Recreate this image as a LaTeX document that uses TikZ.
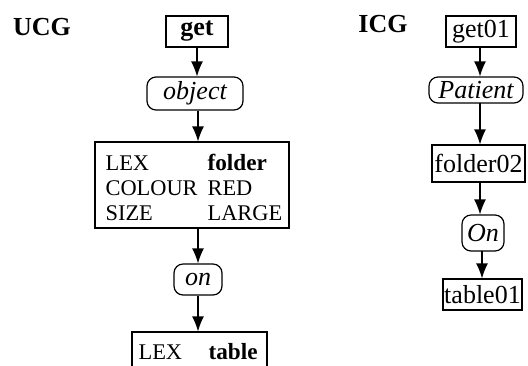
\documentclass[tikz,border=0pt]{standalone}
\usepackage{fontspec}
\setmainfont{Liberation Serif}
\usetikzlibrary{arrows.meta}
\begin{document}
\begin{tikzpicture}[x=0.5pt,y=-0.5pt,
  line width=0.6pt,
  box/.style={draw,rectangle,inner sep=0pt,minimum width=#1},
  rbox/.style={draw,rectangle,rounded corners=4.5pt,inner sep=0pt,minimum width=#1},
  lab/.style={font=\fontsize{13}{15}\selectfont},
  feat/.style={font=\fontsize{11.2}{13}\selectfont,anchor=base west,inner sep=0pt},
  bfeat/.style={feat,font=\fontsize{11.6}{13}\selectfont\bfseries},
  title/.style={font=\fontsize{13}{15}\selectfont\bfseries},
  arr/.style={-{Latex[length=7.5pt,width=6pt]}}]
\useasboundingbox (0,0) rectangle (528,365);
\clip (0,0) rectangle (528,365);
% UCG
\node[title] (ucg) at (42,27) {UCG};
\node[box=31pt,minimum height=15.5pt,lab] (get) at (197,31.5) {\bfseries get};
\node[rbox=48pt,minimum height=16.5pt,lab] (obj) at (195,93.5) {\itshape object};
\node[box=97pt,minimum height=43pt] (fold) at (192,185) {};
\node[feat] (f1a) at (105,170) {LEX};
\node[bfeat] (f1b) at (207,170) {folder};
\node[feat] (f2a) at (105,195) {COLOUR};
\node[feat] (f2b) at (207,195) {RED};
\node[feat] (f3a) at (105,220) {SIZE};
\node[feat] (f3b) at (207,220) {LARGE};
\node[rbox=24pt,minimum height=15.5pt,lab] (on) at (198,279.5) {\itshape on};
\node[box=67.5pt,minimum height=34pt] (tab) at (199.5,366) {};
\node[feat] (t1a) at (138,359) {LEX};
\node[bfeat] (t1b) at (208,359) {table};
\draw[arr] (get.south) -- (get.south |- obj.north);
\draw[arr] ([xshift=1.5pt]obj.south) -- ([xshift=1.5pt]obj.south |- fold.north);
\draw[arr] (on.north |- fold.south) -- (on.north);
\draw[arr] (on.south) -- (on.south |- tab.north);
% ICG
\node[title] (icg) at (383,24.5) {ICG};
\node[box=35pt,minimum height=15.5pt,lab] (get1) at (481,31.5) {get01};
\node[rbox=47pt,minimum height=13pt,lab] (pat) at (476,90) {\itshape Patient};
\node[box=46.5pt,minimum height=18.5pt,lab] (fold2) at (478.5,163.5) {folder02};
\node[rbox=21pt,minimum height=18pt,lab] (on2) at (483,233) {\itshape On};
\node[box=39.5pt,minimum height=15.5pt,lab] (tab1) at (482.5,294.5) {table01};
\draw[arr] (480,47) coordinate (a1) -- (a1 |- pat.north);
\draw[arr] (480,103) coordinate (a2) -- (a2 |- fold2.north);
\draw[arr] (480,182) coordinate (a3) -- (a3 |- on2.north);
\draw[arr] (482,251) coordinate (a4) -- (a4 |- tab1.north);
\end{tikzpicture}
\end{document}
